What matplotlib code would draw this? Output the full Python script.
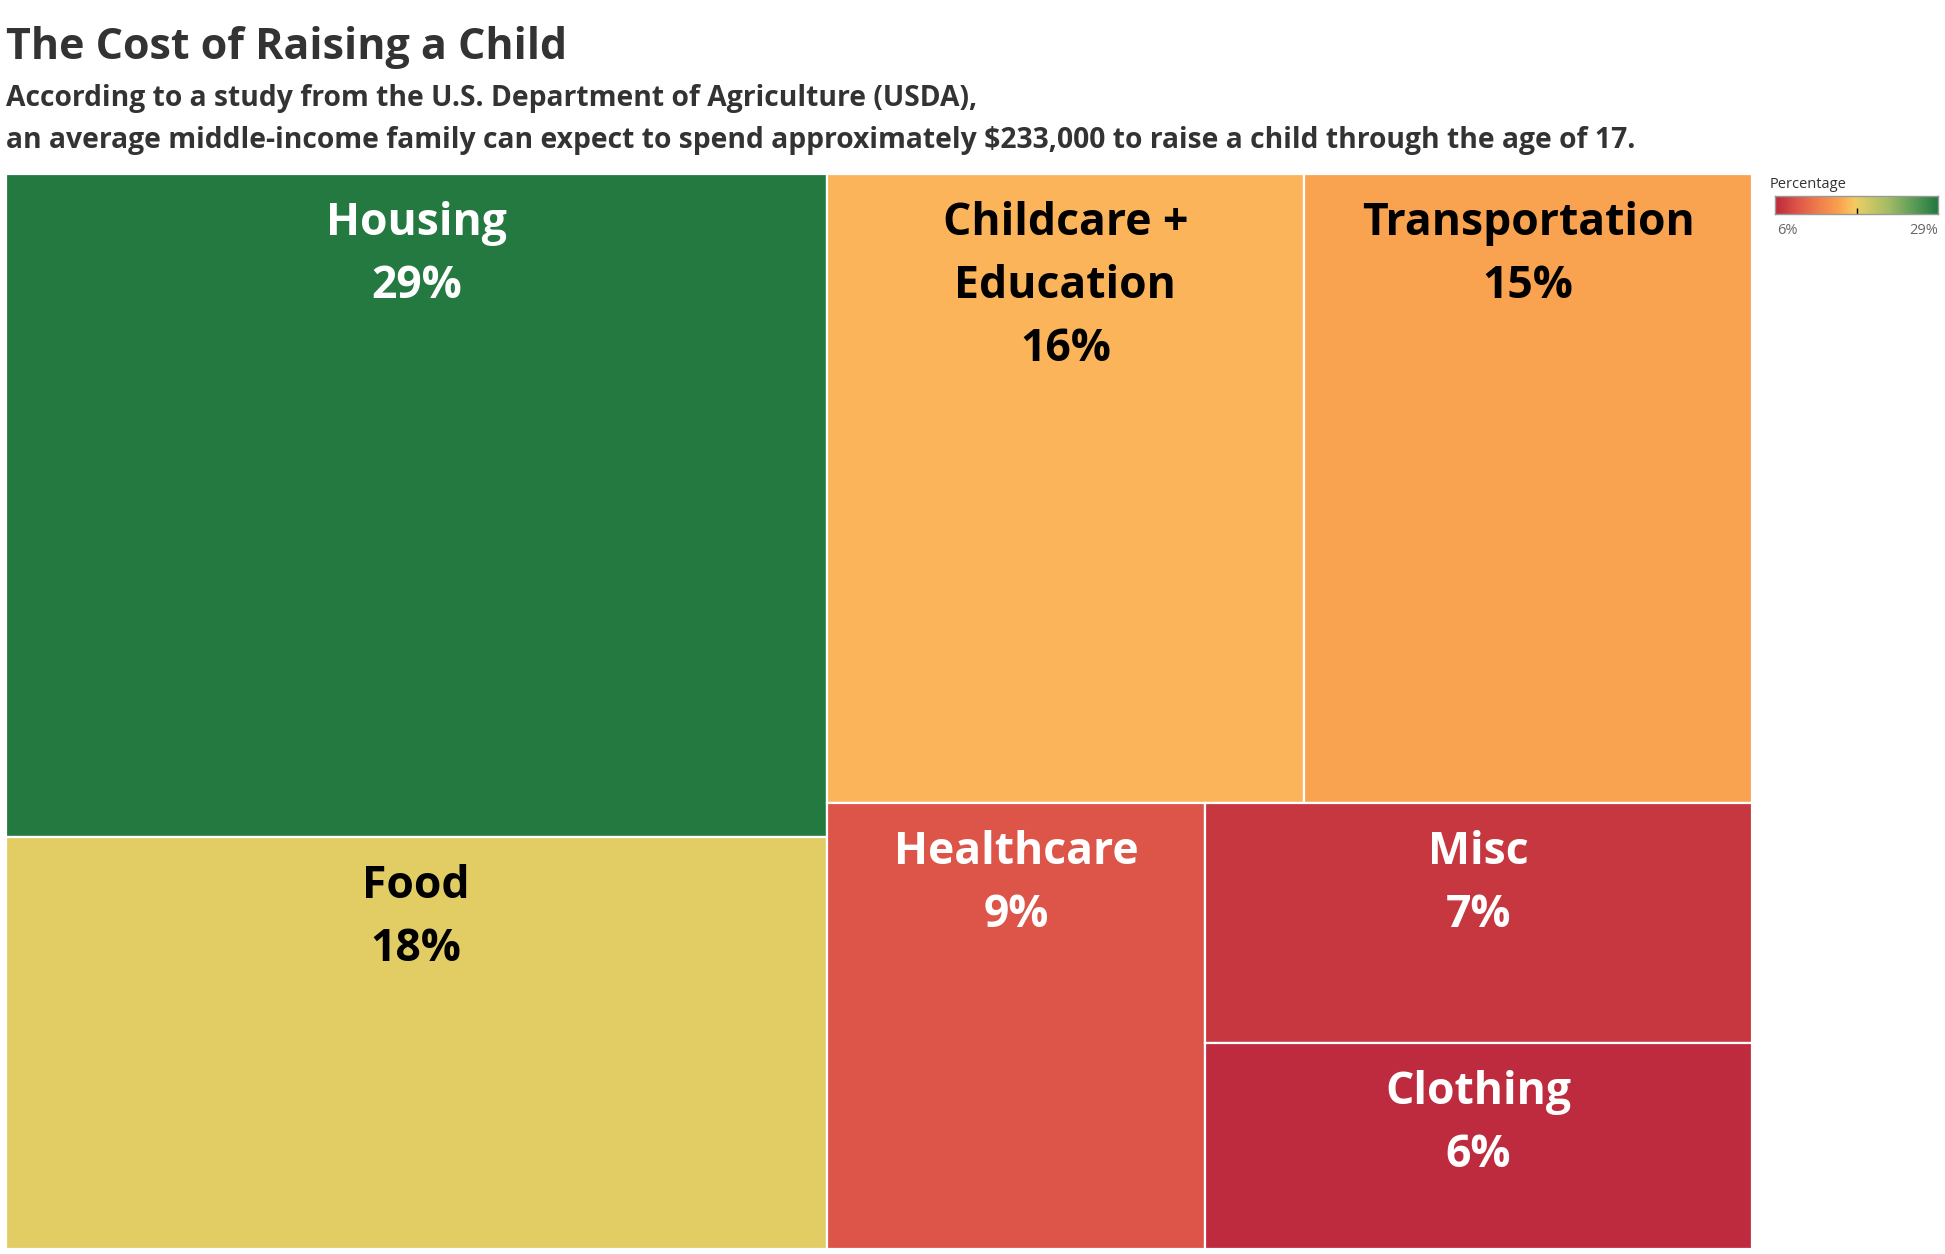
import matplotlib
matplotlib.use("Agg")
import matplotlib.pyplot as plt
import numpy as np
from matplotlib.colors import LinearSegmentedColormap, Normalize, to_rgb
from matplotlib.patches import Rectangle

categories = ["Housing", "Food", "Childcare +\nEducation", "Transportation",
              "Healthcare", "Misc", "Clothing"]
percentages = [29, 18, 16, 15, 9, 7, 6]

# how tiles are grouped: "h" = side by side, "v" = stacked (indices into the lists above)
layout_tree = ("h", [("v", [0, 1]),
                     ("v", [("h", [2, 3]),
                            ("h", [4, ("v", [5, 6])])])])

W_PX, H_PX = 1945, 1254
plt.rcParams['font.family'] = ['Open Sans', 'DejaVu Sans']

# red - gold - green diverging palette
cmap = LinearSegmentedColormap.from_list("rgg", [
    (0.000, "#be2a3e"), (0.0435, "#c6373f"), (0.1304, "#dd5449"),
    (0.27, "#f07f4c"), (0.391, "#f9a14f"), (0.4348, "#fbb45a"),
    (0.49, "#f6c962"), (0.5217, "#e2cd64"), (0.70, "#a2bb66"),
    (0.85, "#5c9d58"), (1.000, "#23793f")])
norm = Normalize(min(percentages), max(percentages))


def total(node):
    if isinstance(node, int):
        return percentages[node]
    return sum(total(k) for k in node[1])


def place(node, x, y, w, h, out):
    if isinstance(node, int):
        out[node] = (x, y, w, h)
        return
    d, kids = node
    s = total(node)
    for k in kids:
        f = total(k) / s
        if d == "h":
            place(k, x, y, w * f, h, out)
            x += w * f
        else:
            place(k, x, y, w, h * f, out)
            y += h * f


fig = plt.figure(figsize=(W_PX / 100, H_PX / 100), dpi=100)
fig.patch.set_facecolor("white")

# treemap area
left, top, right, bottom = 6, 174, 1752, 1249
ax = fig.add_axes([left / W_PX, 1 - bottom / H_PX, (right - left) / W_PX, (bottom - top) / H_PX])
tw, th = right - left, bottom - top
rects = {}
place(layout_tree, 0, 0, tw, th, rects)
ax.set_xlim(0, tw)
ax.set_ylim(th, 0)
ax.axis("off")

first_base = 61 * 0.72   # points below tile top
line_step = 63 * 0.72

for i, (name, pct) in enumerate(zip(categories, percentages)):
    x, y, w, h = rects[i]
    c = cmap(norm(pct))
    ax.add_patch(Rectangle((x, y), w, h, facecolor=c, edgecolor="white", linewidth=1.6))
    r, g, b = to_rgb(c)
    lum = 0.299 * r + 0.587 * g + 0.114 * b
    tc = "black" if lum > 0.62 else "white"
    lines = name.split("\n") + [f"{pct}%"]
    for k, ln in enumerate(lines):
        ax.annotate(ln, xy=(x + w / 2, y), xytext=(0, -(first_base + k * line_step)),
                    textcoords="offset points", ha="center", va="baseline",
                    fontsize=32, fontweight="bold", color=tc)

# titles
fig.text(6 / W_PX, 1 - 59 / H_PX, "The Cost of Raising a Child", fontsize=31,
         fontweight="bold", color="#333333", va="baseline", ha="left")
fig.text(6 / W_PX, 1 - 106 / H_PX,
         "According to a study from the U.S. Department of Agriculture (USDA),",
         fontsize=20.3, fontweight="bold", color="#333333", va="baseline", ha="left")
fig.text(6 / W_PX, 1 - 148 / H_PX,
         "an average middle-income family can expect to spend approximately $233,000 to raise a child through the age of 17.",
         fontsize=20.3, fontweight="bold", color="#333333", va="baseline", ha="left")

# colour legend
cax = fig.add_axes([1775 / W_PX, 1 - 214 / H_PX, 163 / W_PX, 18 / H_PX])
grad = np.linspace(0, 1, 256)[None, :]
cax.imshow(grad, aspect="auto", cmap=cmap, extent=(0, 1, 0, 1))
cax.set_xticks([0.5])
cax.set_xticklabels([])
cax.set_yticks([])
cax.tick_params(axis="x", direction="in", length=4, width=1, color="black")
for s in cax.spines.values():
    s.set_color("#999999")
    s.set_linewidth(1)
fig.text(1770 / W_PX, 1 - 185 / H_PX, "Percentage", fontsize=10.5, color="#333333",
         va="center", ha="left")
fig.text(1777 / W_PX, 1 - 231 / H_PX, f"{min(percentages)}%", fontsize=10.5, color="#666666",
         va="center", ha="left")
fig.text(1938 / W_PX, 1 - 231 / H_PX, f"{max(percentages)}%", fontsize=10.5, color="#666666",
         va="center", ha="right")

fig.savefig("out.png", dpi=100, facecolor="white")
